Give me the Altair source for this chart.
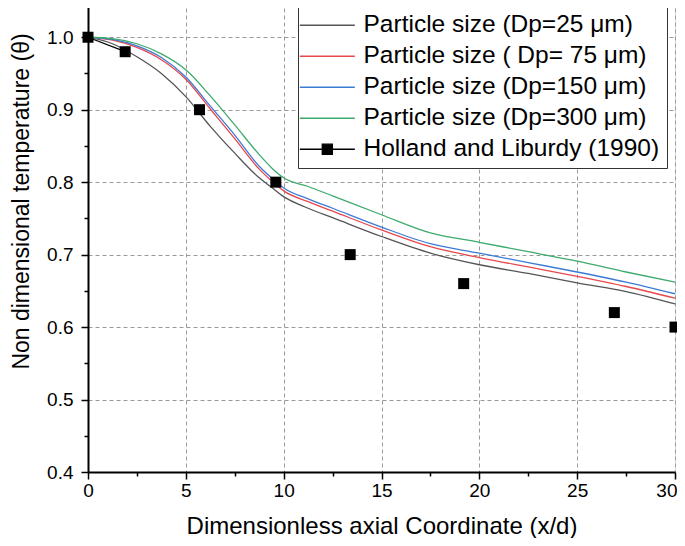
import altair as alt
import pandas as pd

# ---------------- data ----------------
x_sim = [0, 1.25, 2.5, 3.75, 5, 6.25, 7.5, 8.75, 9.375, 10, 11.25, 12.5, 15, 17.5, 20, 22.5, 25, 27.5, 30]
dp25 = [1.0, 0.991, 0.973, 0.950, 0.918, 0.877, 0.840, 0.806, 0.793, 0.780, 0.764, 0.751, 0.725, 0.702, 0.686, 0.674, 0.661, 0.649, 0.632]
dp75 = [1.0, 0.996, 0.986, 0.969, 0.942, 0.901, 0.860, 0.818, 0.802, 0.788, 0.773, 0.760, 0.734, 0.711, 0.696, 0.683, 0.670, 0.656, 0.640]
dp150 = [1.0, 0.997, 0.988, 0.972, 0.945, 0.905, 0.865, 0.822, 0.806, 0.792, 0.777, 0.764, 0.738, 0.715, 0.702, 0.689, 0.676, 0.662, 0.646]
dp300 = [1.0, 0.998, 0.991, 0.977, 0.955, 0.919, 0.879, 0.838, 0.820, 0.806, 0.794, 0.781, 0.755, 0.730, 0.717, 0.704, 0.691, 0.676, 0.662]

x_exp = [0, 1.9, 5.7, 9.6, 13.4, 19.2, 26.9, 30]
y_exp = [1.0, 0.98, 0.90, 0.80, 0.70, 0.66, 0.62, 0.60]

series_names = [
    "Particle size (Dp=25 μm)",
    "Particle size ( Dp= 75 μm)",
    "Particle size (Dp=150 μm)",
    "Particle size (Dp=300 μm)",
    "Holland and Liburdy (1990)",
]
series_colors = ["#555555", "#e8474c", "#3b7bd6", "#3daa6e", "#000000"]

x_major = [0, 5, 10, 15, 20, 25, 30]
x_minor = [2.5, 7.5, 12.5, 17.5, 22.5, 27.5]
y_major = [0.4, 0.5, 0.6, 0.7, 0.8, 0.9, 1.0]
y_minor = [0.45, 0.55, 0.65, 0.75, 0.85, 0.95]

# ---------------- tables ----------------
rows = []
for name, ys in zip(series_names[:4], [dp25, dp75, dp150, dp300]):
    for xv, yv in zip(x_sim, ys):
        rows.append({"x": xv, "y": yv, "series": name})
sim = pd.DataFrame(rows)
exp = pd.DataFrame({"x": x_exp, "y": y_exp, "series": series_names[4]})
exp["idx"] = range(len(exp))

FONT = "Liberation Sans"
HOLL = series_names[4]
LINE_PATH = "M-1.9,0H4.1"
HOLL_PATH = "M-1.9,0H0.55M1.65,0H4.1M0.55,-0.55H1.65V0.55H0.55Z"

xscale = alt.Scale(domain=[0, 30], nice=False, zero=False)
yscale = alt.Scale(domain=[0.4, 1.05], nice=False, zero=False)

legend = alt.Legend(
    title=None,
    orient="none",
    legendX=210,
    legendY=5,
    labelFont=FONT,
    labelFontSize=24.5,
    labelColor="black",
    labelOffset=34,
    symbolSize=336,
    symbolStrokeWidth=1.3,
    symbolOpacity=1,
    symbolType=alt.ExprRef(expr="datum.value === '" + HOLL + "' ? '" + HOLL_PATH + "' : '" + LINE_PATH + "'"),
    strokeColor="#333333",
    fillColor="white",
    padding=7,
    rowPadding=6,
    labelLimit=400,
)

color = alt.Color(
    "series:N",
    scale=alt.Scale(domain=series_names, range=series_colors),
    sort=series_names,
    legend=legend,
)

common_axis = dict(
    grid=True,
    gridDash=[4, 3],
    gridColor="#9a9a9a",
    gridWidth=1,
    domainColor="black",
    domainWidth=2,
    tickColor="black",
    tickWidth=1.5,
    tickSize=7,
    labelFont=FONT,
    labelFontSize=19,
    labelColor="black",
    labelFlush=False,
    titleFont=FONT,
    titleFontWeight="normal",
    titleColor="black",
)

x_main = alt.X(
    "x:Q",
    scale=xscale,
    axis=alt.Axis(
        values=x_major,
        title="Dimensionless axial Coordinate (x/d)",
        format="d",
        labelPadding=2,
        labelAlign=alt.ExprRef(expr="datum.value === 30 ? 'right' : 'center'"),
        labelOffset=alt.ExprRef(expr="datum.value === 30 ? 2 : 0"),
        titleFontSize=24,
        titlePadding=14,
        **common_axis,
    ),
)
y_main = alt.Y(
    "y:Q",
    scale=yscale,
    axis=alt.Axis(
        values=y_major,
        title="Non dimensional temperature (θ)",
        format=".1f",
        labelPadding=8,
        titleFontSize=23,
        titleX=-55,
        titleY=200,
        **common_axis,
    ),
)

lines = alt.Chart(sim).mark_line(strokeWidth=1.3, interpolate="monotone").encode(
    x=x_main, y=y_main, color=color, detail="series:N"
)

exp_line = alt.Chart(exp).transform_filter("datum.idx <= 1").mark_line(strokeWidth=1.3).encode(
    x=alt.X("x:Q", scale=xscale, axis=None), y=alt.Y("y:Q", scale=yscale, axis=None), color=color
)
exp_pts = alt.Chart(exp).mark_square(size=121, filled=True, opacity=1).encode(
    x=alt.X("x:Q", scale=xscale, axis=None), y=alt.Y("y:Q", scale=yscale, axis=None), color=color
)

minor = alt.Chart(exp).mark_point(opacity=0).encode(
    x=alt.X("x:Q", scale=xscale, axis=alt.Axis(orient="bottom", values=x_minor, labels=False, title=None,
                                               grid=False, domain=False, tickSize=4, tickWidth=1.5,
                                               tickColor="black")),
    y=alt.Y("y:Q", scale=yscale, axis=alt.Axis(orient="left", values=y_minor, labels=False, title=None,
                                               grid=False, domain=False, tickSize=4, tickWidth=1.5,
                                               tickColor="black")),
)

chart = alt.layer(lines, exp_line, exp_pts, minor).resolve_axis(x="independent", y="independent").properties(
    width=587,
    height=471,
    autosize=alt.AutoSizeParams(type="none"),
    padding={"left": 80, "top": -7, "right": 2, "bottom": 66},
).configure_view(stroke="black", strokeWidth=2).configure(background="white")

chart.save("out.html", embed_options={"renderer": "svg", "actions": False})
